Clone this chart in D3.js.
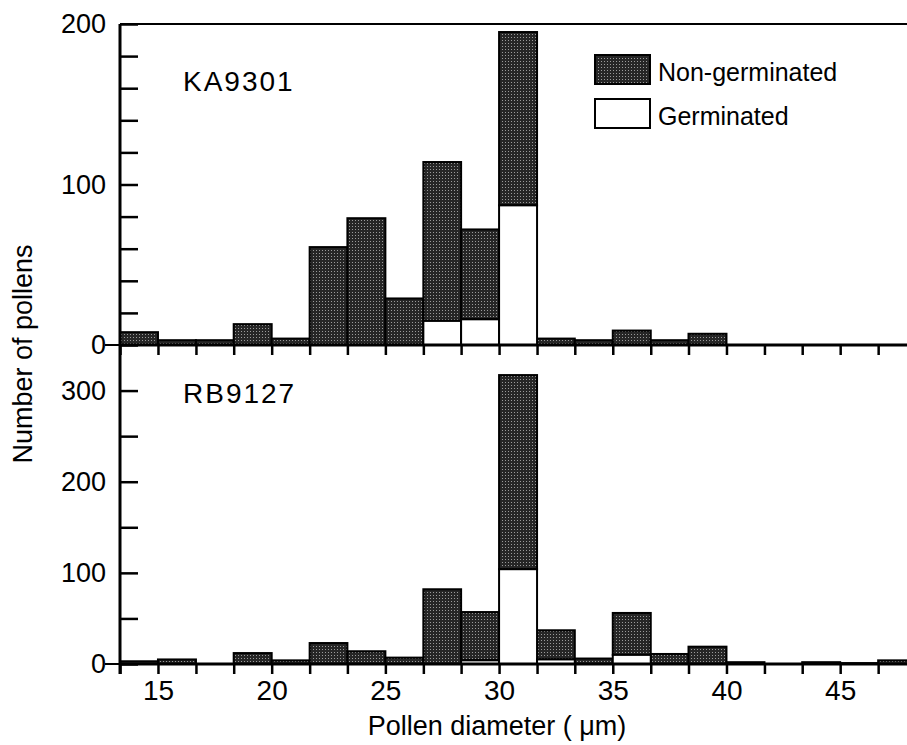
<!DOCTYPE html>
<html>
<head>
<meta charset="utf-8">
<script src="https://cdn.jsdelivr.net/npm/d3@7"></script>
<style>
  body { margin: 0; background: #fff; }
  svg { display: block; }
  .axis path, .axis line { stroke: #000; }
  .lab { font-family: "Liberation Sans", Arial, sans-serif; fill: #000; }
  .narrow { font-family: "Liberation Sans Narrow", "Arial Narrow", "Liberation Sans", sans-serif; fill: #000; }
</style>
</head>
<body>
<div id="plot"></div>
<script>
// bin edges (um) - three bins per 5 um
var binEdges = [13.33, 15, 16.67, 18.33, 20, 21.67, 23.33, 25, 26.67, 28.33, 30,
                31.67, 33.33, 35, 36.67, 38.33, 40, 41.67, 43.33, 45, 46.67, 48.33];
var xTickLabels = [15, 20, 25, 30, 35, 40, 45];

// KA9301 counts per bin (total and germinated)
var kaTotal = [8, 3, 3, 13, 4, 61, 79, 29, 114, 72, 195, 4, 3, 9, 3, 7, 0, 0, 0, 0, 0];
var kaGerm  = [0, 0, 0, 0, 0, 0, 0, 0, 15, 16, 87, 0, 0, 0, 0, 0, 0, 0, 0, 0, 0];

// RB9127 counts per bin
var rbTotal = [3, 5, 0, 12, 4, 23, 14, 7, 82, 57, 317, 37, 6, 56, 11, 19, 2, 0, 2, 1, 4];
var rbGerm  = [0, 0, 0, 0, 0, 0, 0, 0, 0, 4, 104, 5, 0, 10, 0, 0, 0, 0, 0, 0, 0];

var kaTicks = [0, 20, 40, 60, 80, 100, 120, 140, 160, 180, 200];
var kaLabels = [0, 100, 200];
var rbTicks = [0, 50, 100, 150, 200, 250, 300];
var rbLabels = [0, 100, 200, 300];

var width = 907;
var height = 745;
var left = 120;

var svg = d3.select("div#plot")
  .append("svg")
  .attr("width", width)
  .attr("height", height);

svg.append("rect").attr("width", width).attr("height", height).attr("fill", "#fff");

// stipple fill for the dark bars
var pat = svg.append("defs").append("pattern")
  .attr("id", "stipple")
  .attr("width", 3)
  .attr("height", 3)
  .attr("patternUnits", "userSpaceOnUse");
pat.append("rect").attr("width", 3).attr("height", 3).attr("fill", "#262626");
pat.append("rect").attr("x", 1).attr("y", 1).attr("width", 1).attr("height", 1).attr("fill", "#9a9a9a");

var x = d3.scaleLinear()
  .domain([13.33, 48.33])
  .range([left, left + 35 * 22.74]);

var yTop = d3.scaleLinear().domain([0, 200]).range([345, 24]);
var yBot = d3.scaleLinear().domain([0, 350]).range([664, 345]);

function drawPanel(y, total, germ, ticks, labels, name, nameY) {
  var rows = total.map(function(t, i) {
    return {x0: binEdges[i], x1: binEdges[i + 1], total: t, germ: germ[i]};
  });
  var g = svg.append("g");

  // non-germinated part (stacked on top)
  g.selectAll("rect.ng")
    .data(rows.filter(function(d) { return d.total > d.germ; }))
    .enter()
    .append("rect")
    .attr("class", "ng")
    .attr("x", function(d) { return x(d.x0); })
    .attr("width", function(d) { return x(d.x1) - x(d.x0); })
    .attr("y", function(d) { return y(d.total); })
    .attr("height", function(d) { return y(d.germ) - y(d.total); })
    .style("fill", "url(#stipple)")
    .style("stroke", "#000")
    .style("stroke-width", 2);

  // germinated part
  g.selectAll("rect.gm")
    .data(rows.filter(function(d) { return d.germ > 0; }))
    .enter()
    .append("rect")
    .attr("class", "gm")
    .attr("x", function(d) { return x(d.x0); })
    .attr("width", function(d) { return x(d.x1) - x(d.x0); })
    .attr("y", function(d) { return y(d.germ); })
    .attr("height", function(d) { return y(0) - y(d.germ); })
    .style("fill", "#fff")
    .style("stroke", "#000")
    .style("stroke-width", 2);

  // inward y ticks
  svg.append("g")
    .attr("class", "axis")
    .attr("transform", "translate(" + left + ",0)")
    .call(d3.axisRight(y).tickValues(ticks).tickSize(18).tickFormat("").tickSizeOuter(0))
    .call(function(a) { a.select(".domain").remove(); })
    .selectAll("line").style("stroke-width", 2.5);

  // y labels
  svg.append("g")
    .attr("transform", "translate(" + left + ",0)")
    .call(d3.axisLeft(y).tickValues(labels).tickSize(0).tickPadding(14))
    .call(function(a) { a.select(".domain").remove(); })
    .selectAll("text")
    .attr("class", "lab")
    .style("font-size", "27px")
    .style("font-family", "'Liberation Sans', Arial, sans-serif");

  // short outer tick at zero
  svg.append("line")
    .attr("x1", left - 15).attr("x2", left)
    .attr("y1", y(0)).attr("y2", y(0))
    .style("stroke", "#000").style("stroke-width", 2);

  // x axis with downward ticks at bin edges
  svg.append("g")
    .attr("class", "axis")
    .attr("transform", "translate(0," + y(0) + ")")
    .call(d3.axisBottom(x).tickValues(binEdges).tickSize(10).tickFormat("").tickSizeOuter(0))
    .call(function(a) {
      a.select(".domain").attr("d", "M" + left + ",0H" + width).style("stroke-width", 3);
      a.selectAll("line").style("stroke-width", 2.5);
    });

  svg.append("text")
    .attr("class", "lab")
    .attr("x", 183)
    .attr("y", nameY)
    .style("font-size", "28px")
    .style("letter-spacing", "2px")
    .text(name);
}

drawPanel(yTop, kaTotal, kaGerm, kaTicks, kaLabels, "KA9301", 91);
drawPanel(yBot, rbTotal, rbGerm, rbTicks, rbLabels, "RB9127", 403);

// frame: left axis and top line
svg.append("line")
  .attr("x1", left).attr("x2", left)
  .attr("y1", yTop(200)).attr("y2", 674)
  .style("stroke", "#000").style("stroke-width", 3);
svg.append("line")
  .attr("x1", left).attr("x2", width)
  .attr("y1", yTop(200)).attr("y2", yTop(200))
  .style("stroke", "#000").style("stroke-width", 2);

// x tick labels
svg.append("g")
  .attr("transform", "translate(0," + yBot(0) + ")")
  .call(d3.axisBottom(x).tickValues(xTickLabels).tickSize(0).tickPadding(16))
  .call(function(a) { a.select(".domain").remove(); })
  .selectAll("text")
  .attr("class", "narrow")
  .style("font-size", "28px")
  .style("font-family", "'Liberation Sans Narrow', 'Arial Narrow', sans-serif");

// axis titles
svg.append("text")
  .attr("class", "narrow")
  .attr("x", 497)
  .attr("y", 735)
  .attr("text-anchor", "middle")
  .style("font-size", "27px")
  .text("Pollen diameter ( μm)");

svg.append("text")
  .attr("class", "lab")
  .attr("transform", "translate(32,354) rotate(-90)")
  .attr("text-anchor", "middle")
  .style("font-size", "27px")
  .text("Number of pollens");

// legend
var legendItems = ["Non-germinated", "Germinated"];
var legendFill = ["url(#stipple)", "#fff"];
var legend = svg.append("g");
legendItems.forEach(function(name, i) {
  legend.append("rect")
    .attr("x", 595)
    .attr("y", 55 + i * 44)
    .attr("width", 55)
    .attr("height", 29)
    .style("fill", legendFill[i])
    .style("stroke", "#000")
    .style("stroke-width", 2);
  legend.append("text")
    .attr("class", "lab")
    .attr("x", 658)
    .attr("y", 81 + i * 44)
    .style("font-size", "25px")
    .text(name);
});
</script>
</body>
</html>
